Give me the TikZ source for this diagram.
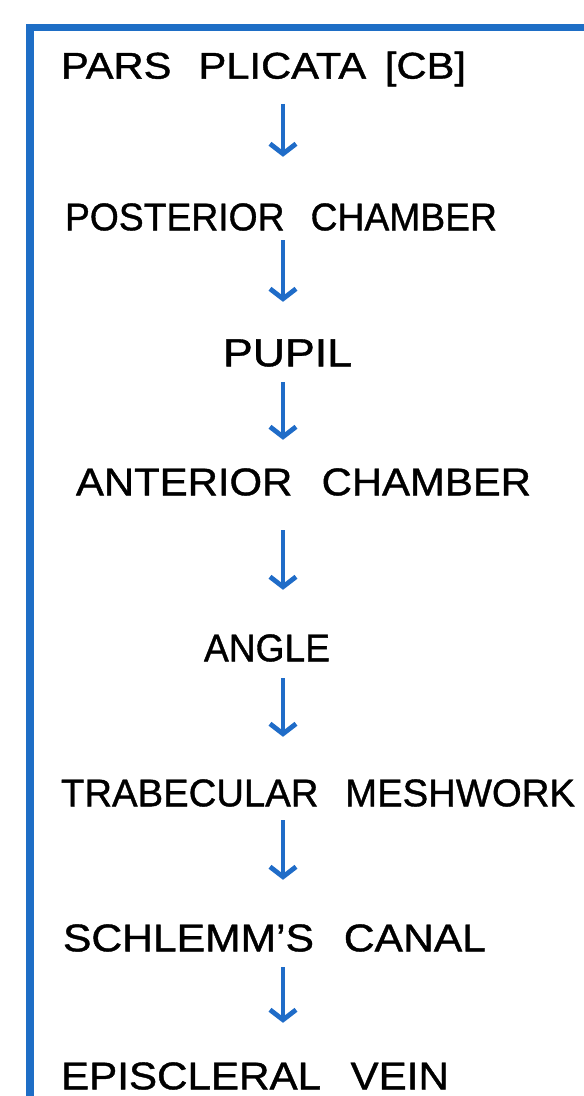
\documentclass[tikz,border=0pt]{standalone}
\usepackage{fontspec}
\setmainfont{Liberation Sans}[FakeBold=1.0]
\usetikzlibrary{arrows.meta}
\definecolor{framecol}{HTML}{1E6EC6}
\definecolor{arrowcol}{HTML}{1F6CC8}
\newcommand\fittext[2]{\resizebox{#1bp}{27bp}{#2}}
\newcommand\wsp{\hspace{0.7em}}
\tikzset{
  label text/.style={anchor=west, inner sep=0pt, outer sep=0pt, text=black, font=\fontsize{38}{40}\selectfont},
  flow/.style={draw=arrowcol, line width=4.8bp, -{Straight Barb[length=10bp,width=26bp,line width=4.8bp]}},
  frame/.style={draw=framecol, line width=7.5bp, line join=miter}
}
\begin{document}
\begin{tikzpicture}[x=1bp,y=-1bp]
\useasboundingbox (0,0) rectangle (584,1096);
\fill[white] (0,0) rectangle (584,1096);
\draw[frame] (30,1110) -- (30,27.5) -- (600,27.5);
\coordinate (ax) at (283,0);
\node[label text] (n1) at (61,69)   {\fittext{405}{PARS\hspace{0.65em}PLICATA\hspace{0.45em}[CB]}};
\node[label text] (n2) at (65,217)  {\fittext{432}{POSTERIOR\wsp CHAMBER}};
\node[label text] (n3) at (223,353) {\fittext{129}{PUPIL}};
\node[label text] (n4) at (76,482)  {\fittext{455}{ANTERIOR\wsp CHAMBER}};
\node[label text] (n5) at (204,648) {\fittext{126}{ANGLE}};
\node[label text] (n6) at (61,793)  {\fittext{514}{TRABECULAR\wsp MESHWORK}};
\node[label text] (n7) at (63,938)  {\fittext{423}{SCHLEMM’S\wsp CANAL}};
\node[label text] (n8) at (61,1076) {\fittext{388}{EPISCLERAL\wsp VEIN}};
\draw[flow, shorten <=17.5bp, shorten >=46.5bp] (n1.south -| ax) -- (n2.north -| ax);
\draw[flow, shorten <=9.5bp,  shorten >=37.5bp] (n2.south -| ax) -- (n3.north -| ax);
\draw[flow, shorten <=15.5bp, shorten >=28.5bp] (n3.south -| ax) -- (n4.north -| ax);
\draw[flow, shorten <=34.5bp, shorten >=44.5bp] (n4.south -| ax) -- (n5.north -| ax);
\draw[flow, shorten <=16.5bp, shorten >=42.5bp] (n5.south -| ax) -- (n6.north -| ax);
\draw[flow, shorten <=13.5bp, shorten >=44.5bp] (n6.south -| ax) -- (n7.north -| ax);
\draw[flow, shorten <=15.5bp, shorten >=39.5bp] (n7.south -| ax) -- (n8.north -| ax);
\end{tikzpicture}
\end{document}
